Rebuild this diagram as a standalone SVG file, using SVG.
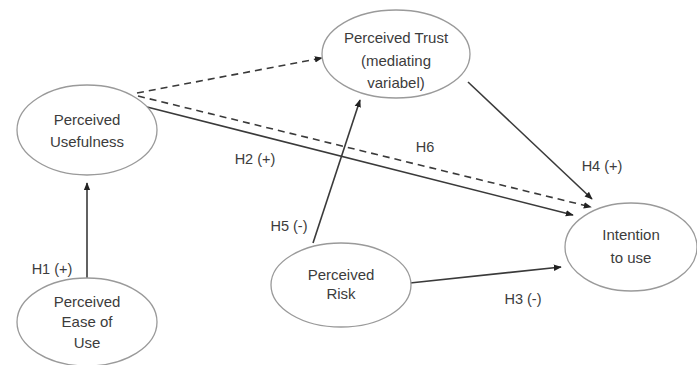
<svg xmlns="http://www.w3.org/2000/svg" width="697" height="365" viewBox="0 0 697 365">
<style>
.node ellipse{fill:#fff;stroke:#9a9a9a;stroke-width:1.3}
text{font-family:"Liberation Sans",Arial,sans-serif;font-size:15px;fill:#3c3c3c;text-anchor:middle}
.lbl{font-size:14.5px}
.c line{stroke:#3a3a3a;stroke-width:1.6;fill:none;marker-end:url(#ah)}
.c .d{stroke-dasharray:7,5}
</style>
<defs>
<marker id="ah" viewBox="0 0 10 10" refX="9" refY="5" markerWidth="5" markerHeight="5" orient="auto" markerUnits="strokeWidth">
<path d="M0,1 L10,5 L0,9 z" fill="#222"/>
</marker>
</defs>
<rect width="697" height="365" fill="#fff"/>
<g class="c" id="connectors">
<line x1="87" y1="278" x2="87" y2="183"/>
<line class="d" x1="137" y1="93" x2="322" y2="58"/>
<line class="d" x1="138" y1="96" x2="591" y2="207"/>
<line x1="147" y1="107" x2="573" y2="215"/>
<line x1="468" y1="82" x2="592" y2="199"/>
<line x1="313" y1="243" x2="360" y2="100"/>
<line x1="410" y1="283" x2="561" y2="267"/>
</g>
<g id="labels">
<text class="lbl" x="52" y="274">H1 (+)</text>
<text class="lbl" x="255" y="164">H2 (+)</text>
<text class="lbl" x="425" y="152">H6</text>
<text class="lbl" x="602" y="171">H4 (+)</text>
<text class="lbl" x="289" y="231">H5 (-)</text>
<text class="lbl" x="523" y="304">H3 (-)</text>
</g>
<g class="node" id="usefulness">
<ellipse cx="87" cy="130" rx="70" ry="45"/>
<text x="87" y="125">Perceived</text>
<text x="87" y="147">Usefulness</text>
</g>
<g class="node" id="trust">
<ellipse cx="396" cy="54" rx="74" ry="44"/>
<text x="396" y="43">Perceived Trust</text>
<text x="396" y="66">(mediating</text>
<text x="396" y="88">variabel)</text>
</g>
<g class="node" id="ease">
<ellipse cx="87" cy="322" rx="70" ry="44"/>
<text x="87" y="307">Perceived</text>
<text x="87" y="327">Ease of</text>
<text x="87" y="348">Use</text>
</g>
<g class="node" id="risk">
<ellipse cx="341" cy="285" rx="70" ry="42"/>
<text x="341" y="280">Perceived</text>
<text x="341" y="299">Risk</text>
</g>
<g class="node" id="intention">
<ellipse cx="631" cy="247" rx="66" ry="44"/>
<text x="631" y="240">Intention</text>
<text x="631" y="263">to use</text>
</g>
</svg>
